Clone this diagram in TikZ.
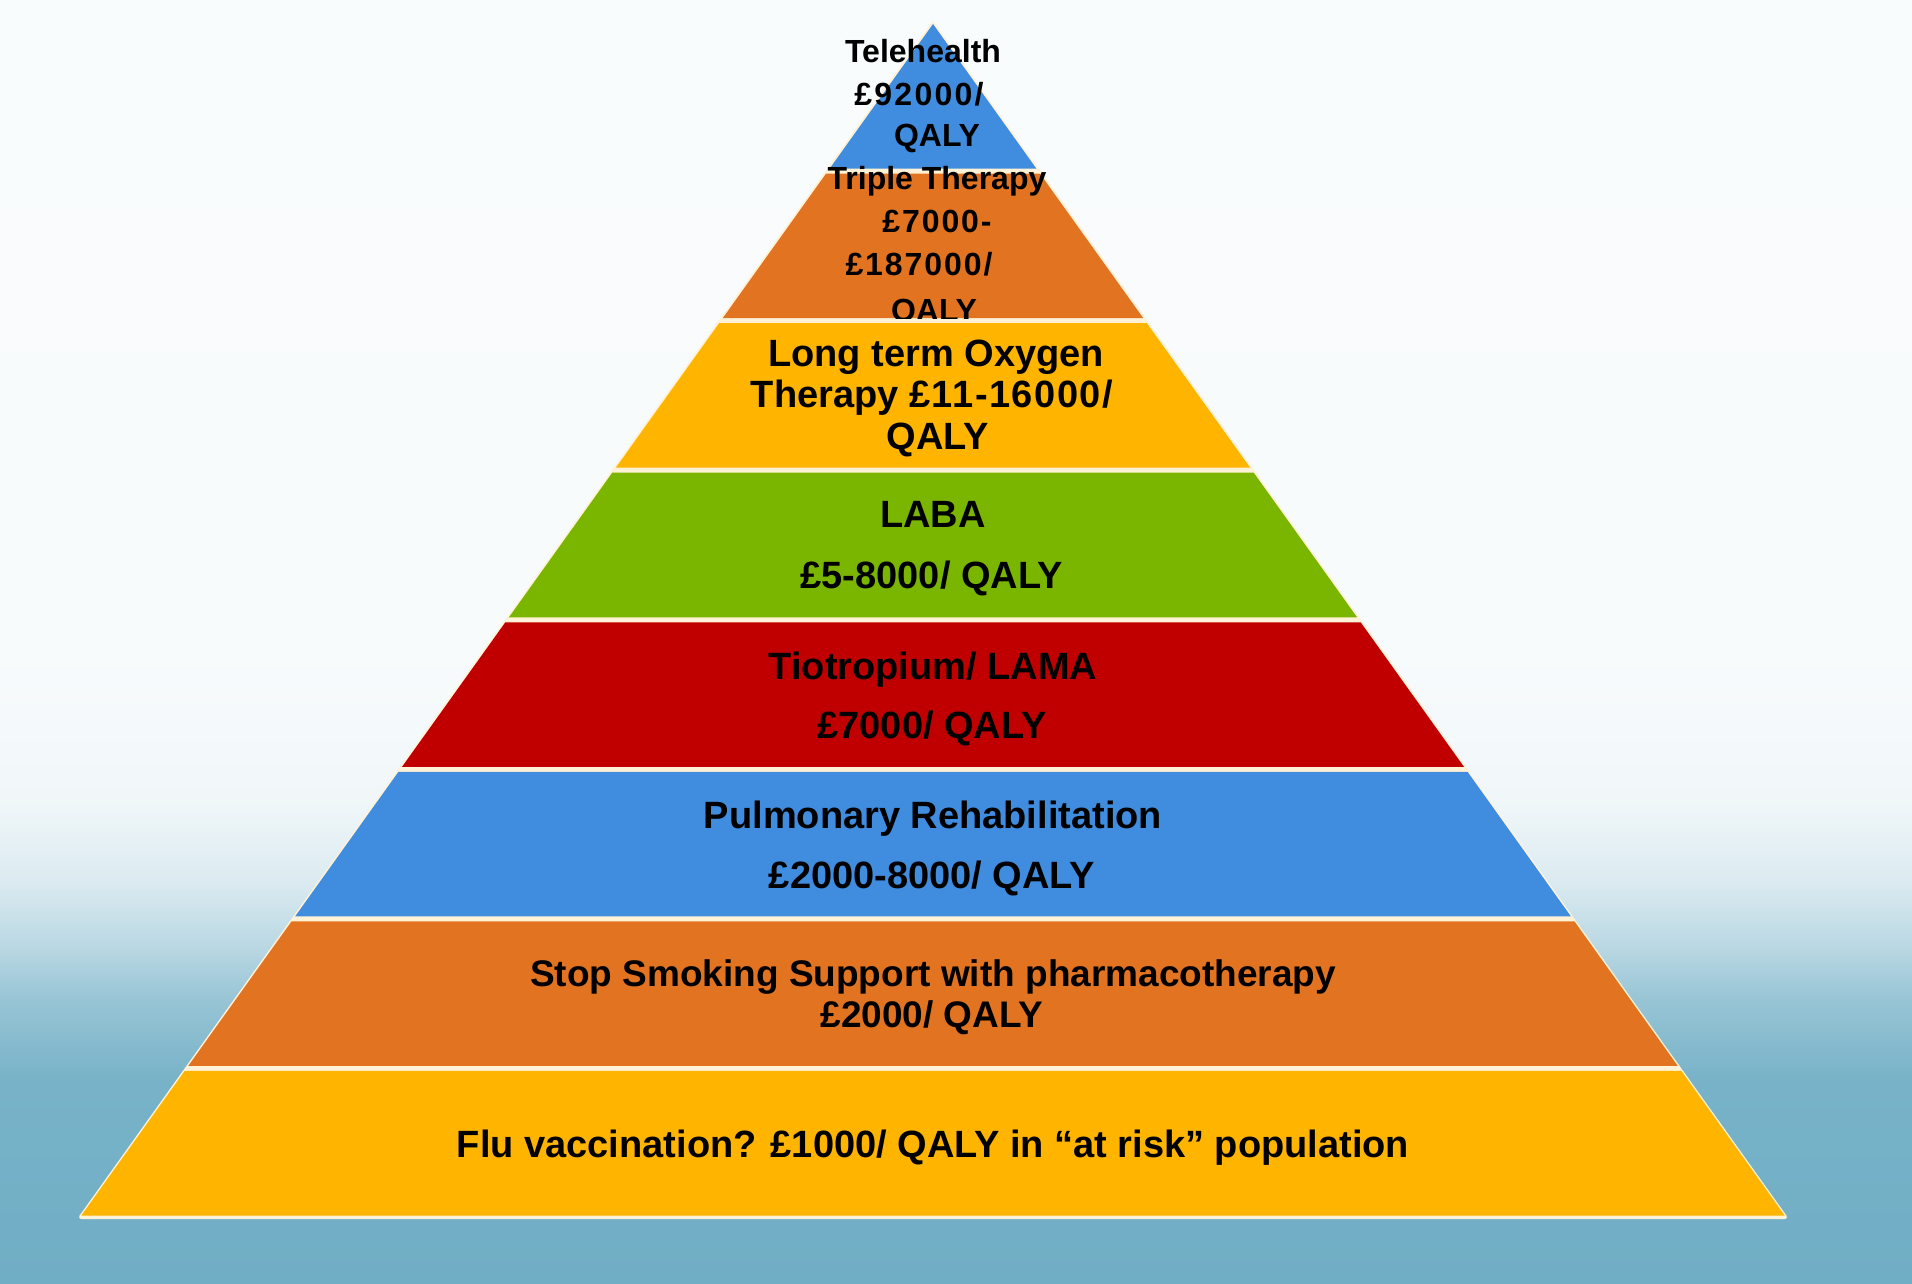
\documentclass[tikz,border=0pt]{standalone}
\usepackage{fontspec}
\setmainfont{Liberation Sans}
\definecolor{cblue}{RGB}{64,140,222}
\definecolor{corange}{RGB}{226,115,32}
\definecolor{cyellow}{RGB}{255,180,0}
\definecolor{cgreen}{RGB}{122,182,0}
\definecolor{cred}{RGB}{192,0,0}
\definecolor{cgap}{RGB}{255,242,214}
\definecolor{bgteal}{RGB}{112,174,197}
\pgfdeclareverticalshading{bgshade}{100bp}{color(0bp)=(bgteal); color(25bp)=(bgteal); color(32.9bp)=(bgteal!95!white); color(36.1bp)=(bgteal!72!white); color(38bp)=(bgteal!50!white); color(40.7bp)=(bgteal!25!white); color(43.8bp)=(bgteal!10!white); color(49.7bp)=(bgteal!5!white); color(75bp)=(white!96!bgteal); color(100bp)=(white!96!bgteal)}
\tikzset{
  txt/.style={anchor=base, inner sep=0pt, text=black, font=\bfseries\fontsize{38}{40}\selectfont},
  smalltxt/.style={txt, font=\bfseries\fontsize{32}{34}\selectfont},
  midtxt/.style={txt, font=\bfseries\fontsize{37}{39}\selectfont},
  flutxt/.style={txt, font=\bfseries\fontsize{38}{40}\selectfont}
}
\begin{document}
\begin{tikzpicture}[x=1pt,y=-1pt]
\useasboundingbox (0,0) rectangle (1912,1284);
\shade[shading=bgshade] (0,0) rectangle (1912,1284);
% pyramid underlay (light edges and gaps)
\fill[cgap, draw=cgap, line width=4pt, line join=round] (933,24) -- (1785,1217) -- (81,1217) -- cycle;
% layers
\foreach \k/\col in {0/cblue,1/corange,2/cyellow,3/cgreen,4/cred,5/cblue,6/corange,7/cyellow} {
  \pgfmathsetmacro\yt{24+\k*149.57}
  \pgfmathsetmacro\yb{\yt+144.57}
  \pgfmathsetmacro\wt{(\yt-24)*0.7148}
  \pgfmathsetmacro\wb{(\yb-24)*0.7148}
  \fill[\col] (933-\wt,\yt) -- (933+\wt,\yt) -- (933+\wb,\yb) -- (933-\wb,\yb) -- cycle;
}
% texts
\node[smalltxt] (tele1) at (923,63) {Telehealth};
\node[smalltxt] (tele2) at (919,106) {\addfontfeature{LetterSpace=7}£92000/};
\node[smalltxt] (tele3) at (937,147) {QALY};
\begin{scope}
\clip (0,150) rectangle (1912,318.7);
\node[smalltxt] (trip1) at (937,190) {Triple Therapy};
\node[smalltxt] (trip2) at (937,233) {\addfontfeature{LetterSpace=6}£7000-};
\node[smalltxt] (trip3) at (919,276) {\addfontfeature{LetterSpace=6}£187000/};
\node[smalltxt] (trip4) at (934,321) {QALY};
\end{scope}
\node[txt] (ltot1) at (936,366) {Long term Oxygen};
\node[txt] (ltot2) at (932,407) {Therapy \addfontfeature{LetterSpace=4}£11-16000/};
\node[txt] (ltot3) at (938,449) {QALY};
\node[txt] (laba1) at (933,527) {LABA};
\node[txt] (laba2) at (932,588) {£5-8000/ QALY};
\node[txt] (tio1) at (933,679) {Tiotropium/ LAMA};
\node[txt] (tio2) at (932,738) {£7000/ QALY};
\node[txt] (pul1) at (933,828) {Pulmonary Rehabilitation};
\node[txt] (pul2) at (932,888) {£2000-8000/ QALY};
\node[midtxt] (stop1) at (933,986) {Stop Smoking Support with pharmacotherapy};
\node[midtxt] (stop2) at (932,1027) {£2000/ QALY};
\node[flutxt] (flu) at (933,1157) {Flu vaccination? £1000/ QALY in “at risk” population};
\end{tikzpicture}
\end{document}
